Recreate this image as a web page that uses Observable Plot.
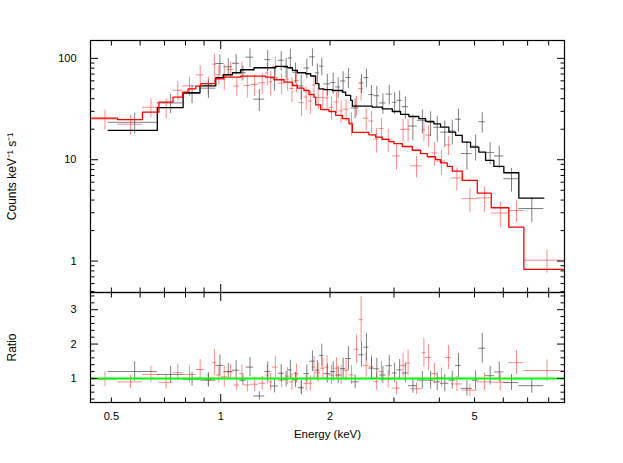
<!DOCTYPE html>
<html><head><meta charset="utf-8">
<script src="https://cdn.jsdelivr.net/npm/d3@7"></script>
<script src="https://cdn.jsdelivr.net/npm/@observablehq/plot@0.6"></script>
<style>
html,body{margin:0;padding:0;background:#fff;}
#chart{position:relative;width:623px;height:463px;}
#chart svg{position:absolute;left:0;top:0;}
</style></head><body><div id="chart"></div>
<script>
// ---- data (energies in keV) ----
const blackEdges = [0.490,0.669,0.787,0.881,0.969,1.021,1.077,1.128,1.175,1.233,1.322,1.373,1.441,1.494,1.534,1.576,1.637,1.695,1.758,1.820,1.872,1.924,2.008,2.073,2.139,2.208,2.287,2.403,2.480,2.559,2.642,2.739,2.854,2.969,3.056,3.162,3.287,3.478,3.705,3.863,4.031,4.249,4.433,4.599,4.928,5.138,5.362,5.676,6.020,6.621,7.758];
const blackCounts = [23.4,36.3,44.9,50.8,88.9,82.7,89.4,72.2,102.7,39.6, 97.2,64.0,95.7,81.3,101,73.0,53.4,80.4,103.5,71.9, 83.7,56.0,57.8,52.3,59.9,64.8,32.4,57.1,64.6,43.9, 42.8,36.3,44.4,36.9,38.5,33.4,21.5,24.5,23.3,20.9, 18.7,19.2,25.1,11.5,13.6,23.7,11.8,10.9,6.5,3.3];
const blackCountErr = [5.5,7.8,9.2,10.7,19.3,16.5,20.2,11.4,21.6,9.7, 22.7,16.4,20.8,18.3,22.6,16.7,14.4,17.6,20.7,16.2, 16.5,13.7,13.5,11.9,13.9,14.4,7.2,12.2,13.5,10.1, 10.0,8.3,9.7,8.9,9.2,8.1,6.0,6.5,6.4,6.0, 5.5,5.3,6.4,3.6,3.9,5.4,2.9,2.7,1.7,0.9];
const blackRatio = [1.20,1.115,0.98,0.95,1.38,1.20,1.24,0.95,1.33,0.49, 1.20,0.78,1.15,0.98,1.25,0.96,0.74,1.14,1.50,1.24, 1.67,1.14,1.20,1.10,1.29,1.58,0.90,1.69,1.91,1.30, 1.28,1.10,1.37,1.16,1.25,1.16,0.79,0.95,0.95,0.90, 0.86,0.95,1.38,0.71,0.95,1.88,1.08,1.19,0.88,0.79];
const blackRatioErr = [0.28,0.24,0.20,0.20,0.30,0.24,0.28,0.15,0.28,0.12, 0.28,0.20,0.25,0.22,0.28,0.22,0.20,0.25,0.30,0.28, 0.33,0.28,0.28,0.25,0.30,0.35,0.20,0.36,0.40,0.30, 0.30,0.25,0.30,0.28,0.30,0.28,0.22,0.25,0.26,0.26, 0.25,0.26,0.35,0.22,0.27,0.43,0.27,0.29,0.23,0.22];
const blackModelEdges = [0.490,0.669,0.788,0.877,0.969,1.017,1.077,1.135,1.235,1.417,1.527,1.576,1.626,1.714,1.769,1.826,1.864,1.924,2.030,2.163,2.208,2.279,2.304,2.615,2.786,2.969,3.128,3.297,3.513,3.665,3.863,4.031,4.249,4.433,4.625,4.875,5.138,5.362,5.651,6.020,6.621,7.758];
const blackModel = [19.45,32.6,45.8,53.5,64.4,68.9,72.1,77.2,80.8,83.2,80.8,76.0,72.1,70.5,67.0,56.2,50.1,49.1,48.2,46.4,43.1,38.5,33.8,33.0,31.8,29.9,28.0,26.7,25.4,23.9,22.6,21.0,18.7,17.4,14.9,13.3,11.9,9.84,8.6,7.44,4.18];

const redEdges = [0.44,0.520,0.609,0.676,0.739,0.785,0.856,0.900,0.949,0.973,1.003,1.043,1.086,1.128,1.159,1.209,1.272,1.330,1.358,1.388,1.440,1.503,1.549,1.592,1.643,1.695,1.743,1.788,1.826,1.884,1.939,1.987,2.051,2.117,2.174,2.255,2.328,2.403,2.467,2.563,2.642,2.727,2.815,2.969,3.128,3.229,3.333,3.589,3.665,3.807,3.947,4.161,4.314,4.625,5.087,5.559,6.214,6.835,9.0];
const redCounts = [25.2,22.4,32.9,32.7,48.4,53.5,68.7,54.5,87.6,69.2, 67.2,77.7,53.3,75.7,54.1,55.4,57.4,71.8,58.8,83.1, 57.0,62.3,50.4,60.4,36.6,41.5,37.8,54.5,41.0,41.0, 40.7,32.9,37.1,30.3,31.5,23.1,34.4,50.4,25.7,24.1, 16.0,20.3,15.9,10.9,19.9,20.0,8.7,19.8,17.5,11.7, 9.7,14.0,6.6,4.13,4.2,2.98,3.16,1.02];
const redCountErr = [5.7,5.0,7.1,7.4,10.4,11.5,15.8,11.2,22.8,15.1, 19.2,14.4,11.2,16.6,13.4,13.4,13.4,18.3,16.3,19.4, 13.2,14.6,14.0,14.8,10.2,10.6,9.7,13.1,9.8,9.5, 10.1,8.4,8.6,7.7,7.6,5.9,7.6,12.5,6.5,5.9, 4.4,5.1,4.1,3.0,5.0,5.1,2.1,4.7,4.1,3.1, 2.7,3.0,1.7,1.1,1.2,0.84,0.76,0.26];
const redRatio = [0.98,0.90,1.115,0.885,1.17,1.115,1.26,0.97,1.46,1.10, 1.05,1.19,0.81,1.14,0.81,0.83,0.86,1.10,0.90,1.33, 0.95,1.07,0.90,1.14,0.72,0.86,0.86,1.33,1.17,1.30, 1.33,1.10,1.30,1.10,1.24,1.10,1.85,2.71,1.38,1.34, 0.91,1.20,0.98,0.72,1.38,1.45,0.70,1.75,1.61,1.14, 1.02,1.61,0.84,0.66,0.90,0.89,1.46,1.23];
const redRatioErr = [0.22,0.20,0.24,0.20,0.25,0.24,0.29,0.20,0.38,0.24, 0.30,0.22,0.17,0.25,0.20,0.20,0.20,0.28,0.25,0.31, 0.22,0.25,0.25,0.28,0.20,0.22,0.22,0.32,0.28,0.30, 0.33,0.28,0.30,0.28,0.30,0.28,0.41,0.67,0.35,0.33, 0.25,0.30,0.25,0.20,0.35,0.37,0.17,0.42,0.38,0.30, 0.28,0.35,0.22,0.18,0.25,0.25,0.35,0.31];
const redModelEdges = [0.44,0.520,0.609,0.676,0.739,0.785,0.813,0.854,0.881,0.965,1.021,1.135,1.330,1.402,1.494,1.576,1.626,1.695,1.750,1.806,1.826,1.884,1.987,2.073,2.163,2.255,2.304,2.559,2.670,2.786,2.905,2.999,3.162,3.369,3.551,3.705,3.905,4.031,4.206,4.341,4.625,5.087,5.559,6.214,6.835,9.0];
const redModel = [25.7,24.9,29.5,37.0,41.4,46.4,50.1,53.2,56.2,62.9, 65.3,66.8,65.3,61.5,58.2,54.0,50.8,48.2,44.0,41.4, 34.8,31.2,29.9,27.4,25.4,22.6,18.6,17.6,16.7,15.9, 15.1,14.4,13.5,12.4,11.5,10.7,10.0,9.3,8.6,7.72, 6.25,4.69,3.36,2.16,0.828];

const xMajorTicks = [1];
const xMinorTicks = [0.5,0.6,0.7,0.8,0.9,2,3,4,5,6,7,8];
const xTickLabels = [0.5,1,2,5];
const countsMajorTicks = [1,10,100];
const countsMinorTicks = [0.5,0.6,0.7,0.8,0.9,2,3,4,5,6,7,8,9,20,30,40,50,60,70,80,90];
const ratioMajorTicks = [1,2,3];
const ratioMinorTicks = [0.4,0.6,0.8,1.2,1.4,1.6,1.8,2.2,2.4,2.6,2.8,3.2,3.4];
const refRatio = [1];

// ---- build ----
const W = 623, H = 463, mL = 90, mR = 59;
const xDomain = [0.438, 8.844];
const font = "'Liberation Sans', Arial, Helvetica, sans-serif";
const blackPt = "#4a4a4a", redPt = "#ff3030";

function bins(edges, counts, err, ratio, rerr) {
  return counts.map((c, i) => ({lo: edges[i], hi: edges[i+1], mid: (edges[i] + edges[i+1]) / 2,
    c, e: err[i], r: ratio[i], re: rerr[i]}));
}
function steps(edges, vals) {
  const a = vals.map((v, i) => ({x: edges[i], y: v}));
  a.push({x: edges[edges.length - 1], y: vals[vals.length - 1]});
  return a;
}
const bData = bins(blackEdges, blackCounts, blackCountErr, blackRatio, blackRatioErr);
const rData = bins(redEdges, redCounts, redCountErr, redRatio, redRatioErr);

function tickSet(k, anchors, major, minor) {
  const ax = k === "x" ? Plot.axisX : Plot.axisY;
  return anchors.flatMap(a => [
    ax(major, {anchor: a, tickSize: -8, fill: "none", label: null, strokeWidth: 1}),
    ax(minor, {anchor: a, tickSize: -4.5, fill: "none", label: null, strokeWidth: 1})
  ]);
}
const style = {fontFamily: font, fontSize: "11px", color: "black", background: "transparent", overflow: "visible"};

const topPlot = Plot.plot({
  width: W, height: H, marginLeft: mL, marginRight: mR, marginTop: 40, marginBottom: 171,
  style,
  x: {type: "log", domain: xDomain},
  y: {type: "log", domain: [0.49, 150]},
  marks: [
    Plot.ruleY(rData, {x1: "lo", x2: "hi", y: "c", stroke: redPt, strokeOpacity: 0.55, clip: true}),
    Plot.ruleX(rData, {x: "mid", y1: d => d.c - d.e, y2: d => d.c + d.e, stroke: redPt, strokeOpacity: 0.55, clip: true}),
    Plot.ruleY(bData, {x1: "lo", x2: "hi", y: "c", stroke: blackPt, strokeOpacity: 0.7, clip: true}),
    Plot.ruleX(bData, {x: "mid", y1: d => d.c - d.e, y2: d => d.c + d.e, stroke: blackPt, strokeOpacity: 0.7, clip: true}),
    Plot.line(steps(blackModelEdges, blackModel), {x: "x", y: "y", curve: "step-after", stroke: "#000", strokeWidth: 1.3, clip: true}),
    Plot.line(steps(redModelEdges, redModel), {x: "x", y: "y", curve: "step-after", stroke: "#ff0000", strokeWidth: 1.3, clip: true}),
    ...tickSet("x", ["top", "bottom"], xMajorTicks, xMinorTicks),
    ...tickSet("y", ["left", "right"], countsMajorTicks, countsMinorTicks),
    Plot.text(countsMajorTicks, {y: d => d, text: d => String(d), frameAnchor: "left", textAnchor: "end", dx: -14, fontSize: 11}),
    Plot.frame({stroke: "black", strokeWidth: 1.2}),
    Plot.text(["Counts keV\u207B\u00B9 s\u207B\u00B9"], {text: d => d, frameAnchor: "left", textAnchor: "middle", dx: -78, dy: 10, rotate: -90, fontSize: 12})
  ]
});

const bottomPlot = Plot.plot({
  width: W, height: H, marginLeft: mL, marginRight: mR, marginTop: 292, marginBottom: 61,
  style,
  x: {type: "log", domain: xDomain},
  y: {type: "linear", domain: [0.3, 3.5]},
  marks: [
    Plot.ruleY(rData, {x1: "lo", x2: "hi", y: "r", stroke: redPt, strokeOpacity: 0.55, clip: true}),
    Plot.ruleX(rData, {x: "mid", y1: d => d.r - d.re, y2: d => d.r + d.re, stroke: redPt, strokeOpacity: 0.55, clip: true}),
    Plot.ruleY(bData, {x1: "lo", x2: "hi", y: "r", stroke: blackPt, strokeOpacity: 0.7, clip: true}),
    Plot.ruleX(bData, {x: "mid", y1: d => d.r - d.re, y2: d => d.r + d.re, stroke: blackPt, strokeOpacity: 0.7, clip: true}),
    Plot.ruleY(refRatio, {stroke: "#00ff00", strokeWidth: 2}),
    ...tickSet("x", ["top", "bottom"], xMajorTicks, xMinorTicks),
    ...tickSet("y", ["left", "right"], ratioMajorTicks, ratioMinorTicks),
    Plot.text(ratioMajorTicks, {y: d => d, text: d => String(d), frameAnchor: "left", textAnchor: "end", dx: -14, fontSize: 11}),
    Plot.text(xTickLabels, {x: d => d, text: d => String(d), frameAnchor: "bottom", lineAnchor: "middle", dy: 13.5, fontSize: 11}),
    Plot.frame({stroke: "black", strokeWidth: 1.2}),
    Plot.text(["Ratio"], {text: d => d, frameAnchor: "left", textAnchor: "middle", dx: -78, rotate: -90, fontSize: 12}),
    Plot.text(["Energy (keV)"], {text: d => d, frameAnchor: "bottom", lineAnchor: "middle", dy: 31.5, fontSize: 11.5})
  ]
});

const host = document.getElementById("chart");
host.appendChild(topPlot);
host.appendChild(bottomPlot);
</script>
</body></html>
